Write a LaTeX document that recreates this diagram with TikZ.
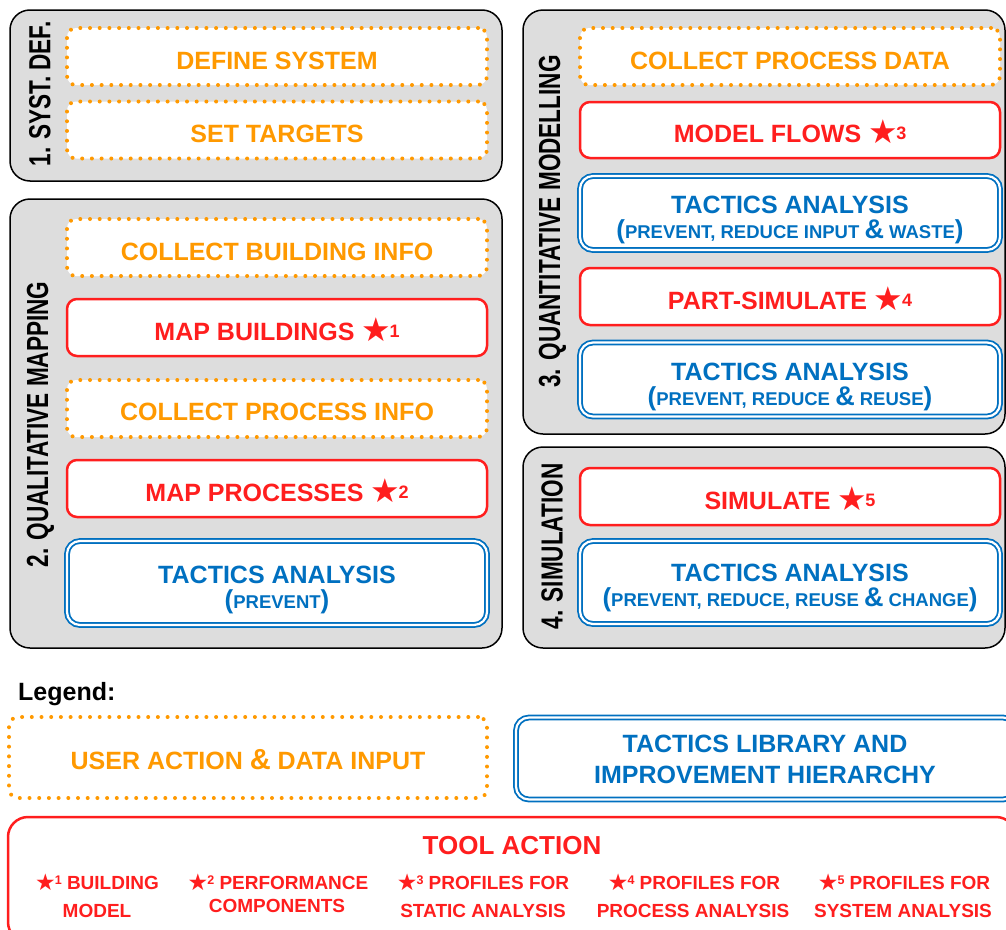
\documentclass[tikz,border=0pt]{standalone}
\usepackage{fontspec}
\usepackage{graphicx}
\setmainfont{Liberation Sans}
\newfontfamily\symfont{DejaVu Sans}

\definecolor{tgray}{RGB}{221,221,221}
\definecolor{torange}{RGB}{255,153,0}
\definecolor{tred}{RGB}{255,30,30}
\definecolor{tblue}{RGB}{0,112,192}

\newcommand\fs[1]{\fontsize{#1}{#1}\selectfont}
% star marker with its number, large (in boxes) and small (in the legend)
\newcommand\bigmark[1]{{\symfont\fs{33}\raisebox{-1pt}{★}}\kern-1.5pt{\fs{18}\raisebox{3pt}{#1}}}
\newcommand\smallmark[1]{{\symfont\fs{23}\raisebox{-1pt}{★}}\kern-1pt{\fs{12.5}\raisebox{4.5pt}{#1}}}
% small-caps look of the tactics lists: brackets and ampersand set larger
\newcommand\bp[1]{{\fs{26}#1}}
\newcommand\amp{{\fs{27}\&}}
\newcommand\subline[1]{{\fs{18.5}#1}}
\newcommand\phasetext[1]{\scalebox{0.74}[1]{#1}}

\begin{document}
\begin{tikzpicture}[x=1pt,y=-1pt,
  panel/.style={rectangle, draw=black, line width=1.5pt, fill=tgray, rounded corners=20pt, inner sep=0pt},
  boxbase/.style={rectangle, inner sep=0pt, minimum width=420, fill=white},
  userbox/.style={boxbase, draw=torange, line width=4pt, dash pattern=on 0pt off 9.7pt, line cap=round, rounded corners=9pt},
  toolbox/.style={boxbase, draw=tred, line width=2.5pt, rounded corners=10pt},
  tacbox/.style={boxbase, draw=tblue, line width=1.8pt, double=white, double distance=2.2pt, rounded corners=13pt},
  lbl/.style={inner sep=0pt, anchor=base, font=\bfseries\fs{25}},
  userlbl/.style={lbl, text=torange},
  toollbl/.style={lbl, text=tred},
  taclbl/.style={lbl, text=tblue},
  rowlbl/.style={inner sep=0pt, anchor=base, font=\bfseries\fs{19}, text=tred},
  phase/.style={rotate=90, inner sep=0pt, font=\bfseries\fs{30.5}}
]
\useasboundingbox (0,0) rectangle (1006,929);
\clip (0,0) rectangle (1006,929);

% ---------- phase panels ----------
\node[panel, minimum width=492, minimum height=171] (p1) at (256,95.5) {};
\node[panel, minimum width=492, minimum height=449] (p2) at (256,423.5) {};
\node[panel, minimum width=482, minimum height=424] (p3) at (764,222) {};
\node[panel, minimum width=482, minimum height=201] (p4) at (764,547.5) {};

\node[phase] (p1lbl) at (40,94) {\phasetext{1. SYST. DEF.}};
\node[phase] (p2lbl) at (40.5,424.5) {\phasetext{2. QUALITATIVE MAPPING}};
\node[phase] (p3lbl) at (552.5,221.5) {\phasetext{3. QUANTITATIVE MODELLING}};
\node[phase] (p4lbl) at (552,546.5) {\phasetext{4. SIMULATION}};

% ---------- 1. system definition ----------
\node[userbox, minimum height=57] (define) at (277,56.5) {};
\node[userlbl] (defineT) at (277,69) {DEFINE SYSTEM};
\node[userbox, minimum height=57] (targets) at (277,130) {};
\node[userlbl] (targetsT) at (277,142) {SET TARGETS};

% ---------- 2. qualitative mapping ----------
\node[userbox, minimum height=57] (cbi) at (277,247.5) {};
\node[userlbl] (cbiT) at (277,260) {COLLECT BUILDING INFO};
\node[toolbox, minimum height=57] (mapb) at (277,327.5) {};
\node[toollbl] (mapbT) at (277,340) {MAP BUILDINGS \bigmark{1}};
\node[userbox, minimum height=57] (cpi) at (277,408.5) {};
\node[userlbl] (cpiT) at (277,420.5) {COLLECT PROCESS INFO};
\node[toolbox, minimum height=57] (mapp) at (277,488.5) {};
\node[toollbl] (mappT) at (277,501) {MAP PROCESSES \bigmark{2}};
\node[tacbox, minimum height=84] (tac1) at (277,583) {};
\node[taclbl] (tac1T) at (277,583) {TACTICS ANALYSIS};
\node[taclbl] (tac1S) at (277,608) {\bp{(}\subline{PREVENT}\bp{)}};

% ---------- 3. quantitative modelling ----------
\node[userbox, minimum height=57] (cpd) at (790,56.5) {};
\node[userlbl] (cpdT) at (790,69) {COLLECT PROCESS DATA};
\node[toolbox, minimum height=56] (mflow) at (790,130) {};
\node[toollbl] (mflowT) at (790,142.5) {MODEL FLOWS \bigmark{3}};
\node[tacbox, minimum height=74] (tac2) at (790,213) {};
\node[taclbl] (tac2T) at (790,213) {TACTICS ANALYSIS};
\node[taclbl] (tac2S) at (790,238) {\bp{(}\subline{PREVENT, REDUCE INPUT \amp{} WASTE}\bp{)}};
\node[toolbox, minimum height=57] (psim) at (790,296.5) {};
\node[toollbl] (psimT) at (790,309) {PART-SIMULATE \bigmark{4}};
\node[tacbox, minimum height=74] (tac3) at (790,379.5) {};
\node[taclbl] (tac3T) at (790,380) {TACTICS ANALYSIS};
\node[taclbl] (tac3S) at (790,405.5) {\bp{(}\subline{PREVENT, REDUCE \amp{} REUSE}\bp{)}};

% ---------- 4. simulation ----------
\node[toolbox, minimum height=57] (sim) at (790,496.5) {};
\node[toollbl] (simT) at (790,509) {SIMULATE \bigmark{5}};
\node[tacbox, minimum height=83] (tac4) at (790,582.5) {};
\node[taclbl] (tac4T) at (790,581.5) {TACTICS ANALYSIS};
\node[taclbl] (tac4S) at (790,606.5) {\bp{(}\subline{PREVENT, REDUCE, REUSE \amp{} CHANGE}\bp{)}};

% ---------- legend ----------
\node[inner sep=0pt, anchor=base west, font=\bfseries\fs{25}] (legend) at (18,700) {Legend:};

\node[userbox, minimum width=478, minimum height=81] (luser) at (248,757.5) {};
\node[userlbl] (luserT) at (248,769) {USER ACTION {\fs{29}\&} DATA INPUT};

\node[tacbox, minimum width=500, minimum height=82] (llib) at (766,758.5) {};
\node[taclbl] (llibA) at (765,752) {TACTICS LIBRARY AND};
\node[taclbl] (llibB) at (765,783) {IMPROVEMENT HIERARCHY};

\node[toolbox, minimum width=1008, minimum height=125, rounded corners=20pt] (ltool) at (512,879.5) {};
\node[toollbl, font=\bfseries\fs{26}] (ltoolT) at (512,854) {TOOL ACTION};

\node[rowlbl] (r1a) at (97,889) {\smallmark{1} BUILDING};
\node[rowlbl] (r1b) at (97,917) {MODEL};
\node[rowlbl] (r2a) at (278,889) {\smallmark{2} PERFORMANCE};
\node[rowlbl] (r2b) at (277,912) {COMPONENTS};
\node[rowlbl] (r3a) at (483,889) {\smallmark{3} PROFILES FOR};
\node[rowlbl] (r3b) at (483,917) {STATIC ANALYSIS};
\node[rowlbl] (r4a) at (694,889) {\smallmark{4} PROFILES FOR};
\node[rowlbl] (r4b) at (693,917) {PROCESS ANALYSIS};
\node[rowlbl] (r5a) at (904,889) {\smallmark{5} PROFILES FOR};
\node[rowlbl] (r5b) at (903,917) {SYSTEM ANALYSIS};
\end{tikzpicture}
\end{document}
